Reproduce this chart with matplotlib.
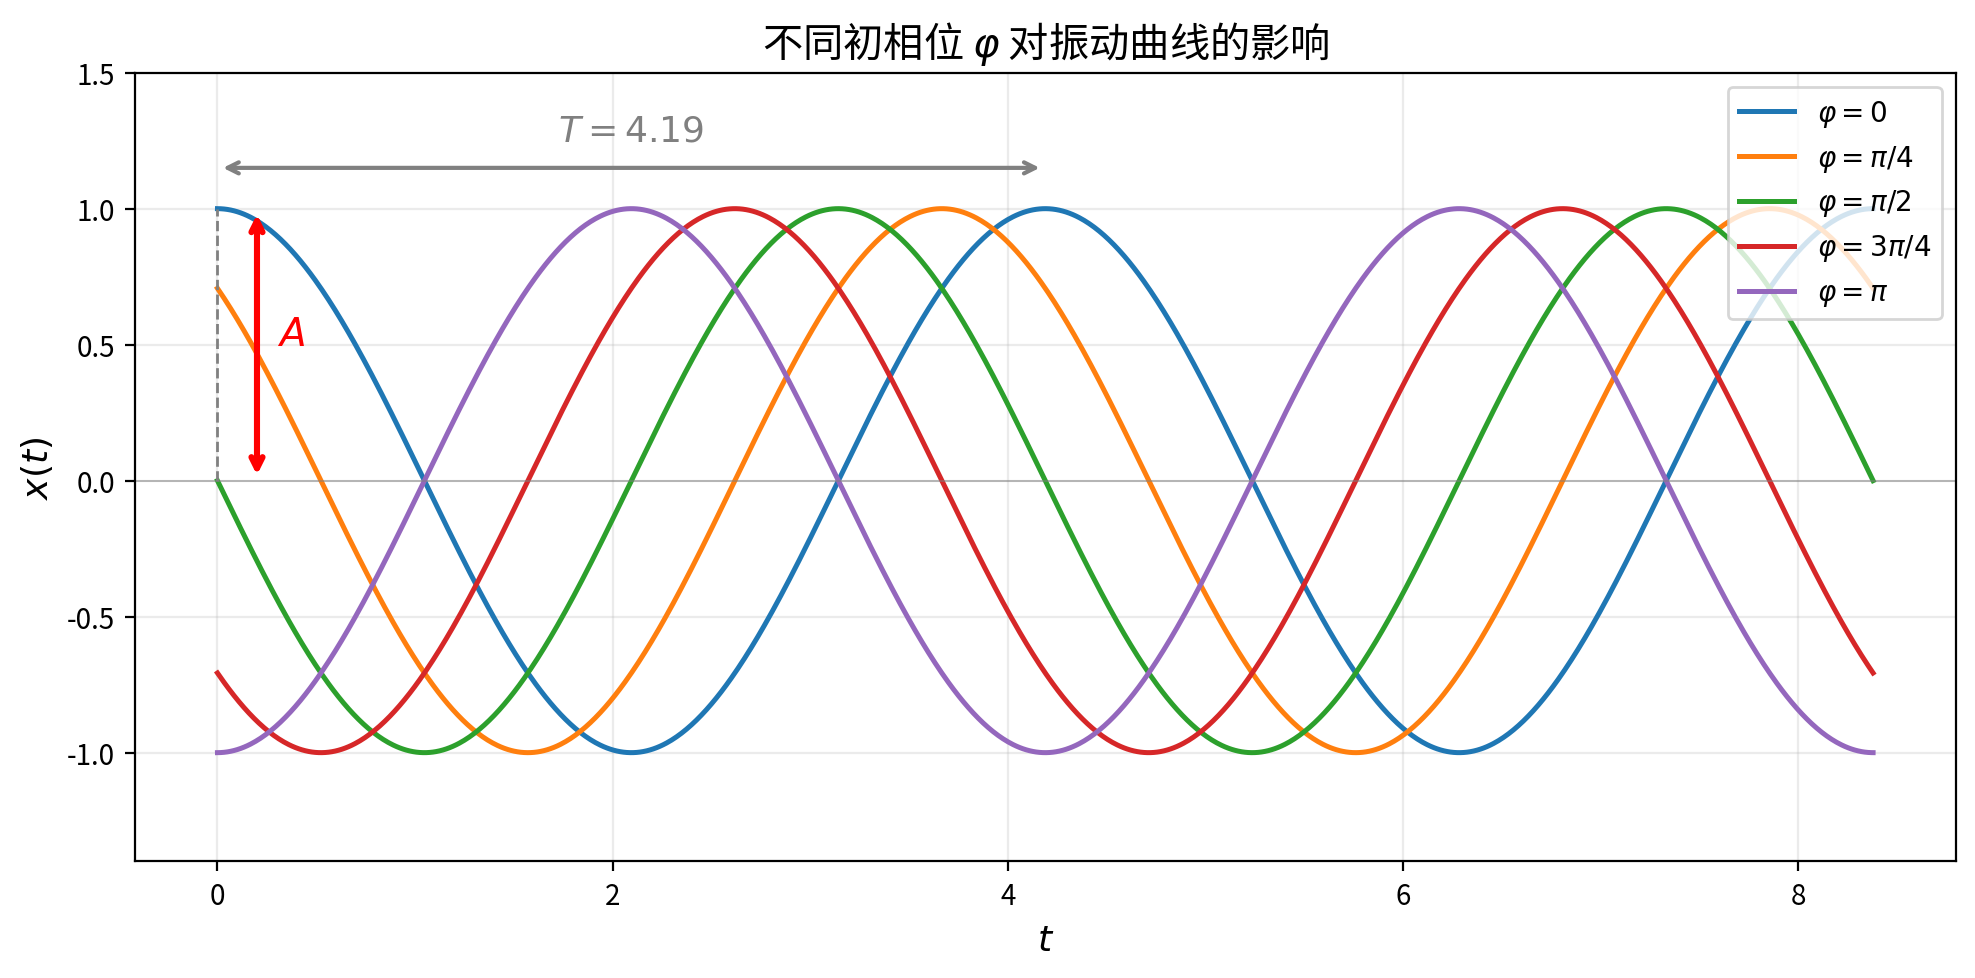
import numpy as np
import matplotlib
matplotlib.use("Agg")
import matplotlib.pyplot as plt

plt.rcParams['font.family'] = ['Noto Sans CJK SC', 'DejaVu Sans']
plt.rcParams['axes.unicode_minus'] = False

# oscillation parameters
amplitude = 1.0
omega = 1.5
period = 2 * np.pi / omega          # ~4.19
t_end = 2 * period
phases = [0, np.pi / 4, np.pi / 2, 3 * np.pi / 4, np.pi]
phase_labels = [r'$\varphi=0$', r'$\varphi=\pi/4$', r'$\varphi=\pi/2$',
                r'$\varphi=3\pi/4$', r'$\varphi=\pi$']

t = np.linspace(0, t_end, 1000)

fig, ax = plt.subplots(figsize=(10, 5))

for phi, lab in zip(phases, phase_labels):
    ax.plot(t, amplitude * np.cos(omega * t + phi), linewidth=1.8, label=lab)

ax.axhline(0, color='gray', linewidth=0.6, alpha=0.6)

# amplitude marker
ax.plot([0, 0], [0, amplitude], color='gray', linestyle='--', linewidth=1)
ax.annotate('', xy=(0.2, amplitude), xytext=(0.2, 0),
            arrowprops=dict(arrowstyle='<->', color='red', lw=2.2))
ax.text(0.3, amplitude / 2, r'$A$', color='red', fontsize=14)

# period marker
ax.annotate('', xy=(period, 1.15), xytext=(0, 1.15),
            arrowprops=dict(arrowstyle='<->', color='gray', lw=1.5))
ax.text(period / 2, 1.25, rf'$T={period:.2f}$', color='gray', fontsize=13, ha='center')

ax.set_ylim(-1.4, 1.5)
ax.set_xlabel(r'$t$', fontsize=13)
ax.set_ylabel(r'$x(t)$', fontsize=13)
ax.set_title(r'不同初相位 $\varphi$ 对振动曲线的影响', fontsize=14.5)
ax.grid(True, alpha=0.25)
ax.legend(loc='upper right', fontsize=10)

plt.tight_layout()
plt.savefig('out.png', dpi=200, bbox_inches='tight')
